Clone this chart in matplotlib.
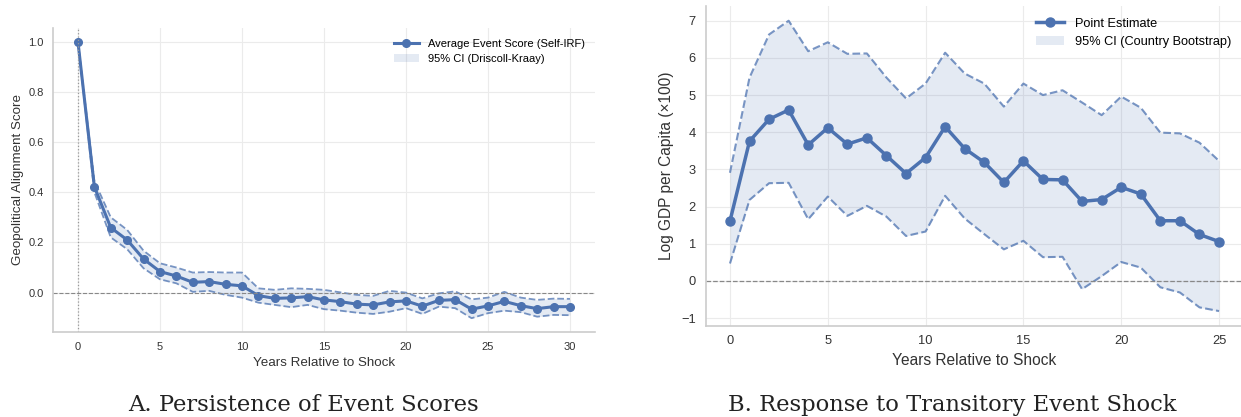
import matplotlib
matplotlib.use("Agg")
import matplotlib.pyplot as plt
import numpy as np

plt.rcParams["font.family"] = ["Liberation Sans", "DejaVu Sans"]

# panel A: persistence of event scores
years_a = list(range(31))
score_a = [1.0, 0.422, 0.259, 0.210, 0.134, 0.084, 0.066, 0.041, 0.044, 0.033,
           0.027, -0.012, -0.023, -0.021, -0.016, -0.029, -0.036, -0.046, -0.049,
           -0.037, -0.033, -0.054, -0.031, -0.028, -0.066, -0.053, -0.035, -0.052,
           -0.064, -0.056, -0.056]
upper_a = [1.0, 0.445, 0.300, 0.250, 0.167, 0.117, 0.100, 0.080, 0.082, 0.080,
           0.080, 0.017, 0.011, 0.017, 0.015, 0.011, 0.001, -0.009, -0.013,
           0.007, 0.000, -0.023, -0.003, 0.005, -0.027, -0.020, 0.003, -0.020,
           -0.029, -0.024, -0.025]
lower_a = [1.0, 0.400, 0.220, 0.173, 0.097, 0.053, 0.037, 0.003, 0.007, -0.009,
           -0.020, -0.040, -0.049, -0.058, -0.049, -0.066, -0.072, -0.080, -0.085,
           -0.076, -0.062, -0.085, -0.056, -0.062, -0.102, -0.082, -0.072, -0.078,
           -0.096, -0.089, -0.090]

# panel B: response of log GDP per capita
years_b = list(range(26))
est_b = [1.61, 3.76, 4.35, 4.60, 3.66, 4.12, 3.68, 3.85, 3.37, 2.89, 3.32, 4.15,
         3.56, 3.19, 2.65, 3.23, 2.73, 2.72, 2.14, 2.19, 2.52, 2.34, 1.62, 1.62,
         1.25, 1.06]
upper_b = [2.91, 5.47, 6.63, 7.00, 6.18, 6.42, 6.11, 6.12, 5.47, 4.91, 5.31, 6.14,
           5.58, 5.31, 4.69, 5.31, 5.00, 5.13, 4.80, 4.46, 4.96, 4.66, 3.99, 3.97,
           3.72, 3.23]
lower_b = [0.47, 2.18, 2.63, 2.64, 1.66, 2.27, 1.75, 2.02, 1.73, 1.21, 1.33, 2.29,
           1.68, 1.26, 0.85, 1.08, 0.64, 0.65, -0.22, 0.13, 0.51, 0.36, -0.17, -0.31,
           -0.71, -0.81]

BLUE = "#4C72B0"


def style_axes(ax, tick_size):
    ax.set_facecolor("white")
    ax.grid(True, color="#ebebeb", linewidth=0.8)
    ax.set_axisbelow(True)
    for side in ("top", "right"):
        ax.spines[side].set_visible(False)
    for side in ("left", "bottom"):
        ax.spines[side].set_color("#cccccc")
        ax.spines[side].set_linewidth(1.2)
    ax.tick_params(labelsize=tick_size, colors="#333333", length=0, pad=7)


fig = plt.figure(figsize=(12.41, 4.17), dpi=100)

# --- panel A
ax1 = fig.add_axes([0.0430, 0.2038, 0.4361, 0.7292])
style_axes(ax1, 8)
ax1.fill_between(years_a, lower_a, upper_a, color=BLUE, alpha=0.15, linewidth=0,
                 label="95% CI (Driscoll-Kraay)")
ax1.plot(years_a, upper_a, color=BLUE, alpha=0.75, linestyle="--", linewidth=1.3)
ax1.plot(years_a, lower_a, color=BLUE, alpha=0.75, linestyle="--", linewidth=1.3)
ax1.plot(years_a, score_a, color=BLUE, linewidth=2.2, marker="o", markersize=5.5,
         label="Average Event Score (Self-IRF)")
ax1.axhline(0, color="#888888", linestyle="--", linewidth=0.8)
ax1.axvline(0, color="#999999", linestyle=":", linewidth=0.9)
ax1.set_xticks([0, 5, 10, 15, 20, 25, 30])
ax1.set_yticks([0.0, 0.2, 0.4, 0.6, 0.8, 1.0])
ax1.set_xlabel("Years Relative to Shock", fontsize=9.6, color="#333333", labelpad=4)
ax1.set_ylabel("Geopolitical Alignment Score", fontsize=9.6, color="#333333",
               labelpad=3)
h, l = ax1.get_legend_handles_labels()
ax1.legend([h[1], h[0]], [l[1], l[0]], loc="upper right", frameon=False,
           fontsize=8, handlelength=2.2, bbox_to_anchor=(1.0, 0.998))

# --- panel B
ax2 = fig.add_axes([0.5685, 0.2192, 0.4335, 0.7659])
style_axes(ax2, 9.3)
ax2.fill_between(years_b, lower_b, upper_b, color=BLUE, alpha=0.15, linewidth=0,
                 label="95% CI (Country Bootstrap)")
ax2.plot(years_b, upper_b, color=BLUE, alpha=0.75, linestyle="--", linewidth=1.5)
ax2.plot(years_b, lower_b, color=BLUE, alpha=0.75, linestyle="--", linewidth=1.5)
ax2.plot(years_b, est_b, color=BLUE, linewidth=2.5, marker="o", markersize=6.5,
         label="Point Estimate")
ax2.axhline(0, color="#888888", linestyle="--", linewidth=0.9)
ax2.set_xticks([0, 5, 10, 15, 20, 25])
ax2.set_yticks(list(range(-1, 8)))
ax2.set_xlabel("Years Relative to Shock", fontsize=11.2, color="#333333", labelpad=4)
ax2.set_ylabel("Log GDP per Capita (\u00d7100)", fontsize=11.2, color="#333333",
               labelpad=5)
h, l = ax2.get_legend_handles_labels()
ax2.legend([h[1], h[0]], [l[1], l[0]], loc="upper right", frameon=False,
           fontsize=9.2, handlelength=2.2, bbox_to_anchor=(0.998, 1.0))

# captions
fig.text(303 / 1241, 1 - 411 / 417, "A. Persistence of Event Scores",
         family=["DejaVu Serif"], fontsize=16.3, color="#222222",
         ha="center", va="baseline")
fig.text(952 / 1241, 1 - 411 / 417, "B. Response to Transitory Event Shock",
         family=["DejaVu Serif"], fontsize=16.3, color="#222222",
         ha="center", va="baseline")

fig.savefig("out.png", dpi=100, facecolor="white")
plt.close(fig)
